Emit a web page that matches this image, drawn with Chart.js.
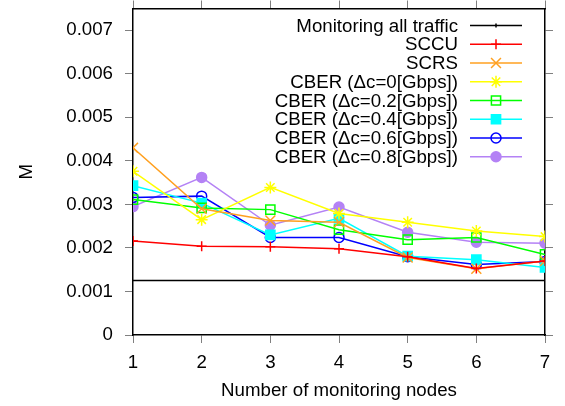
<!DOCTYPE html>
<html>
<head>
<meta charset="utf-8">
<script src="https://cdn.jsdelivr.net/npm/chart.js@4/dist/chart.umd.min.js"></script>
<style>
  body { margin: 0; background: #fff; }
  canvas { display: block; }
</style>
</head>
<body>
<canvas id="mychart" width="565" height="406"></canvas>
<script>
  const nodes = [1, 2, 3, 4, 5, 6, 7];
  const yTicks = [0, 0.001, 0.002, 0.003, 0.004, 0.005, 0.006, 0.007];

  const allTraffic = [0.00125, 0.00125, 0.00125, 0.00125, 0.00125, 0.00125, 0.00125];
  const sccu = [0.00216, 0.00204, 0.00203, 0.00198, 0.0018, 0.00153, 0.0017];
  const scrs = [0.0043, 0.0029, 0.00263, 0.00259, 0.00178, 0.00152, 0.0017];
  const cber0 = [0.00376, 0.00265, 0.00339, 0.00279, 0.00259, 0.00239, 0.00226];
  const cber02 = [0.00311, 0.00292, 0.00288, 0.00242, 0.00219, 0.00224, 0.00185];
  const cber04 = [0.00343, 0.00303, 0.0023, 0.00268, 0.00181, 0.00173, 0.00155];
  const cber06 = [0.00316, 0.00319, 0.00224, 0.00224, 0.0018, 0.00162, 0.00169];
  const cber08 = [0.00295, 0.00362, 0.00252, 0.00294, 0.00236, 0.00213, 0.00211];

  const FONT = { family: "'Liberation Sans', Arial, sans-serif", size: 18.7 };

  const toXY = (arr) => nodes.map((n, i) => ({ x: n, y: arr[i] }));

  const series = (label, arr, color, style, radius, filled) => ({
    label: label,
    data: toXY(arr),
    borderColor: color,
    backgroundColor: filled ? color : "rgba(0,0,0,0)",
    borderWidth: 1.5,
    pointStyle: style,
    pointRadius: radius,
    pointBorderWidth: 1.5,
    pointBorderColor: color,
    pointBackgroundColor: filled ? color : "rgba(0,0,0,0)",
    fill: false,
    tension: 0,
  });

  // legend drawn gnuplot style: text right aligned, sample on the right
  const keyPlugin = {
    id: "key",
    afterDraw(chart) {
      const ctx = chart.ctx;
      ctx.save();
      ctx.font = FONT.size + "px " + FONT.family;
      ctx.textAlign = "right";
      ctx.textBaseline = "middle";
      chart.data.datasets.forEach((ds, i) => {
        const y = 25.5 + i * 18.75;
        ctx.fillStyle = "#000";
        ctx.fillText(ds.label, 458, y + 1);
        ctx.strokeStyle = ds.borderColor;
        ctx.lineWidth = ds.borderWidth;
        ctx.beginPath();
        ctx.moveTo(470, y);
        ctx.lineTo(522, y);
        ctx.stroke();
        if (ds.pointRadius > 0) {
          ctx.fillStyle = ds.pointBackgroundColor;
          ctx.lineWidth = ds.pointBorderWidth;
          Chart.helpers.drawPoint(ctx, {
            pointStyle: ds.pointStyle,
            radius: ds.pointRadius,
            rotation: 0,
            borderWidth: ds.pointBorderWidth,
          }, 496, y);
        } else {
          ctx.beginPath();
          ctx.moveTo(496, y - 2);
          ctx.lineTo(496, y + 2);
          ctx.stroke();
        }
      });
      ctx.restore();
    },
  };

  const setTicks = (axis) => {
    axis.ticks = yTicks.map((v) => ({ value: v }));
  };

  const noPad = (s) => {
    s.paddingTop = 0;
    s.paddingBottom = 0;
    s.paddingLeft = 0;
    s.paddingRight = 0;
  };

  const tickGrid = {
    drawOnChartArea: false,
    drawTicks: true,
    tickLength: 8,
    color: "#808080",
  };

  new Chart(document.getElementById("mychart"), {
    type: "line",
    data: {
      datasets: [
        {
          label: "Monitoring all traffic",
          data: toXY(allTraffic),
          borderColor: "#000",
          borderWidth: 1.5,
          pointRadius: 0,
          fill: false,
        },
        series("SCCU", sccu, "#ff0000", "cross", 5, false),
        series("SCRS", scrs, "#ffa020", "crossRot", 7, false),
        series("CBER (\u0394c=0[Gbps])", cber0, "#ffff00", "star", 6, false),
        series("CBER (\u0394c=0.2[Gbps])", cber02, "#00ff00", "rect", 6.5, false),
        series("CBER (\u0394c=0.4[Gbps])", cber04, "#00ffff", "rect", 6.5, true),
        series("CBER (\u0394c=0.6[Gbps])", cber06, "#0000ff", "circle", 5, false),
        series("CBER (\u0394c=0.8[Gbps])", cber08, "#b482f5", "circle", 5, true),
      ],
    },
    options: {
      responsive: false,
      animation: false,
      devicePixelRatio: 1,
      layout: { padding: 0 },
      plugins: { legend: { display: false }, tooltip: { enabled: false } },
      scales: {
        x: {
          type: "linear",
          position: "bottom",
          min: 1,
          max: 7,
          ticks: { stepSize: 1, color: "#000", font: FONT, padding: 9 },
          grid: tickGrid,
          border: { display: true, color: "#000", width: 1.5 },
          title: {
            display: true,
            text: "Number of monitoring nodes",
            color: "#000",
            font: FONT,
            padding: { top: 0 },
          },
          afterFit(s) { s.height = 71; noPad(s); },
        },
        x2: {
          type: "linear",
          position: "top",
          min: 1,
          max: 7,
          ticks: { stepSize: 1, display: false },
          grid: tickGrid,
          border: { display: true, color: "#000", width: 1.5 },
          afterFit(s) { s.height = 7; noPad(s); },
        },
        y: {
          type: "linear",
          position: "left",
          min: 0,
          max: 0.0075,
          afterBuildTicks: setTicks,
          ticks: {
            color: "#000",
            font: FONT,
            padding: 12,
            callback: (v) => String(+v.toFixed(3)),
          },
          grid: tickGrid,
          border: { display: true, color: "#000", width: 1.5 },
          title: { display: true, text: "M", color: "#000", font: FONT, padding: { top: 16, bottom: 0 } },
          afterFit(s) { s.width = 133; noPad(s); },
        },
        y2: {
          type: "linear",
          position: "right",
          min: 0,
          max: 0.0075,
          afterBuildTicks: setTicks,
          ticks: { display: false },
          grid: tickGrid,
          border: { display: true, color: "#000", width: 1.5 },
          afterFit(s) { s.width = 20; noPad(s); },
        },
      },
    },
    plugins: [keyPlugin],
  });
</script>
</body>
</html>
